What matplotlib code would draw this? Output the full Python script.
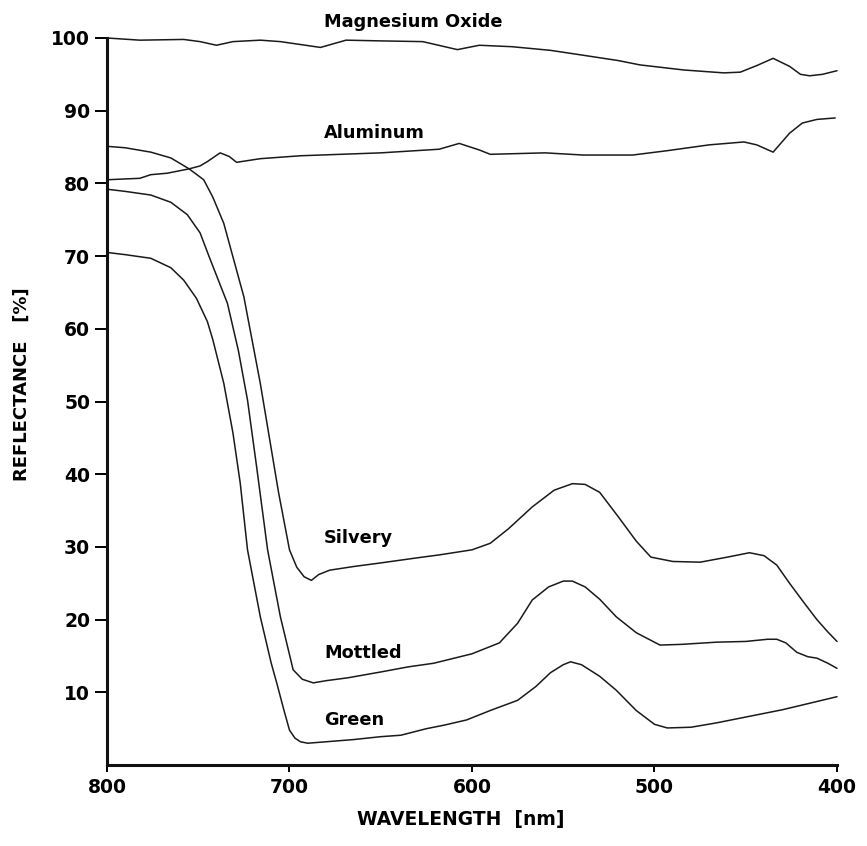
import numpy as np
import matplotlib
matplotlib.use('Agg')
import matplotlib.pyplot as plt

plt.rcParams['font.family'] = ['DejaVu Sans']
plt.rcParams['font.weight'] = 'bold'

# reflectance curves (wavelength nm, reflectance %)
mgo_wl = [800, 782, 758, 749, 740, 731, 716, 705, 694, 683, 669, 650, 627, 608, 596,
          578, 557, 541, 520, 508, 484, 462, 453, 444, 435, 426, 420, 415, 408, 400]
mgo_r = [100, 99.7, 99.8, 99.5, 99.0, 99.5, 99.7, 99.5, 99.1, 98.7, 99.7, 99.6, 99.5, 98.4, 99.0,
         98.8, 98.3, 97.7, 96.9, 96.3, 95.6, 95.2, 95.3, 96.2, 97.2, 96.1, 95.0, 94.8, 95.0, 95.5]

al_wl = [800, 782, 776, 767, 755, 749, 745, 738, 733, 729, 716, 694, 650, 618, 607,
         596, 590, 560, 539, 512, 493, 470, 451, 444, 435, 426, 419, 411, 401]
al_r = [80.5, 80.7, 81.2, 81.4, 82.0, 82.4, 83.0, 84.2, 83.7, 82.9, 83.4, 83.8, 84.2, 84.7, 85.5,
        84.6, 84.0, 84.2, 83.9, 83.9, 84.5, 85.3, 85.7, 85.3, 84.3, 86.9, 88.3, 88.8, 89.0]

silvery_wl = [800, 790, 776, 765, 755, 747, 742, 736, 731, 725, 716, 711, 706, 700, 696,
              692, 688, 684, 678, 665, 650, 630, 618, 600, 590, 580, 567, 555, 545, 538,
              530, 520, 510, 502, 490, 475, 460, 448, 440, 433, 426, 418, 411, 405, 400]
silvery_r = [85.1, 84.9, 84.3, 83.5, 82.0, 80.5, 78.1, 74.5, 69.9, 64.4, 52.5, 45.0, 37.5, 29.6, 27.2,
             25.9, 25.4, 26.2, 26.8, 27.3, 27.8, 28.5, 28.9, 29.6, 30.5, 32.5, 35.5, 37.8, 38.7, 38.6,
             37.5, 34.2, 30.8, 28.6, 28.0, 27.9, 28.6, 29.2, 28.8, 27.5, 25.0, 22.3, 20.0, 18.3, 17.0]

mottled_wl = [800, 790, 776, 765, 756, 749, 744, 739, 734, 728, 723, 718, 712, 705, 698,
              693, 687, 680, 668, 650, 635, 621, 600, 585, 575, 567, 558, 550, 545, 538,
              530, 521, 510, 497, 485, 466, 450, 438, 433, 428, 422, 416, 411, 405, 400]
mottled_r = [79.2, 78.9, 78.4, 77.4, 75.7, 73.2, 69.9, 66.7, 63.5, 57.0, 50.2, 41.0, 29.6, 20.4, 13.1,
             11.8, 11.3, 11.6, 12.0, 12.8, 13.5, 14.0, 15.3, 16.8, 19.5, 22.7, 24.5, 25.3, 25.3, 24.5,
             22.8, 20.4, 18.2, 16.5, 16.6, 16.9, 17.0, 17.3, 17.3, 16.8, 15.5, 14.9, 14.7, 14.0, 13.3]

green_wl = [800, 790, 776, 765, 758, 751, 745, 742, 736, 731, 727, 723, 716, 710, 707,
            703, 700, 697, 694, 690, 680, 665, 650, 639, 625, 615, 603, 590, 575, 565, 557,
            550, 546, 540, 530, 521, 510, 500, 493, 480, 466, 450, 430, 415, 400]
green_r = [70.5, 70.2, 69.7, 68.4, 66.7, 64.2, 61.0, 58.5, 52.5, 45.7, 38.8, 29.6, 20.4, 14.0, 11.3,
           7.5, 4.8, 3.7, 3.2, 3.0, 3.2, 3.5, 3.9, 4.1, 5.0, 5.5, 6.2, 7.5, 8.9, 10.8, 12.7,
           13.8, 14.2, 13.8, 12.2, 10.3, 7.5, 5.6, 5.1, 5.2, 5.8, 6.6, 7.6, 8.5, 9.4]

series = [(mgo_wl, mgo_r, 'Magnesium Oxide', 102.2),
          (al_wl, al_r, 'Aluminum', 86.9),
          (silvery_wl, silvery_r, 'Silvery', 31.2),
          (mottled_wl, mottled_r, 'Mottled', 15.4),
          (green_wl, green_r, 'Green', 6.2)]

fig = plt.figure(figsize=(8.67, 8.46), dpi=100, facecolor='white')
ax = fig.add_axes([0.1234, 0.0957, 0.842, 0.8594])

for wl, r, name, ylab in series:
    ax.plot(wl, r, color='#1a1a1a', linewidth=1.1, clip_on=False,
            solid_joinstyle='round', solid_capstyle='round')
    ax.text(681, ylab, name, fontsize=12.8, fontweight='bold', ha='left', va='center')

ax.set_xlim(800, 400)
ax.set_ylim(0, 100)
ax.set_xticks([800, 700, 600, 500, 400])
ax.set_yticks(np.arange(10, 101, 10))

for s in ['top', 'right']:
    ax.spines[s].set_visible(False)
for s in ['left', 'bottom']:
    ax.spines[s].set_linewidth(2.2)
    ax.spines[s].set_color('#111111')

ax.tick_params(axis='y', direction='out', length=8.6, width=1.4, pad=3.5, labelsize=13.5)
ax.tick_params(axis='x', direction='out', length=5, width=1.4, pad=4.5, labelsize=13.5)
for lab in ax.get_xticklabels() + ax.get_yticklabels():
    lab.set_fontweight('bold')

fig.text(0.025, 0.546, 'REFLECTANCE   [%]', rotation=90, ha='center', va='center',
         fontsize=13, fontweight='bold')
fig.text(0.531, 0.031, 'WAVELENGTH  [nm]', ha='center', va='center',
         fontsize=13.5, fontweight='bold')

fig.savefig('out.png', dpi=100, facecolor='white')
